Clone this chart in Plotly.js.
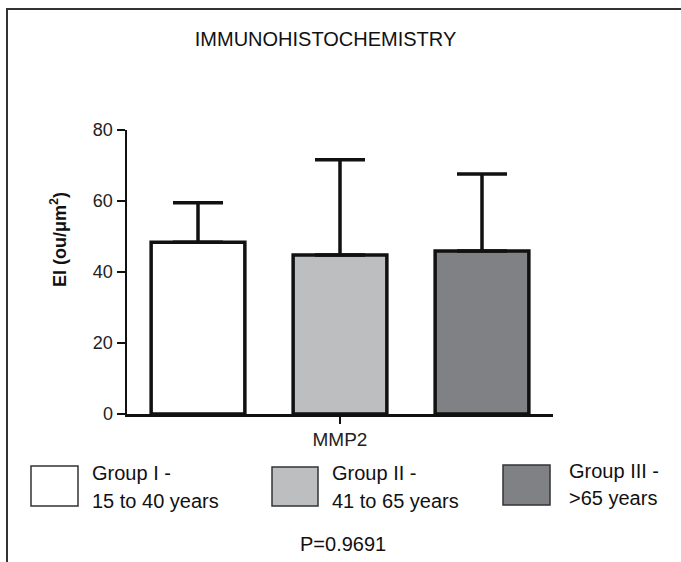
<!DOCTYPE html>
<html>
<head>
<meta charset="utf-8">
<script src="https://cdn.plot.ly/plotly-3.0.1.min.js"></script>
<style>
  html, body { margin: 0; padding: 0; background: #fff; }
  #chart { width: 681px; height: 562px; }
</style>
</head>
<body>
<div id="chart"></div>
<script>
// ---- data ----
const categories = ['Group I', 'Group II', 'Group III'];
const ageRanges = ['15 to 40 years', '41 to 65 years', '>65 years'];
const means = [48.4, 44.8, 45.9];
const sdUpper = [11.1, 26.8, 21.7];
const yTicks = [0, 20, 40, 60, 80];
const markerLabel = ['MMP2'];
const pValueText = 'P=0.9691';
const chartTitle = 'IMMUNOHISTOCHEMISTRY';
const yTitle = '<b>EI (ou/\u03bcm<sup>2</sup>)</b>';

// ---- styles ----
const fills = ['#ffffff', '#bdbec0', '#808184'];
const ink = '#111111';
const FONT = 'Liberation Sans, Arial, Helvetica, sans-serif';

// plot area in pixels
const W = 681, H = 562;
const L = 127, R = 553, T = 130, B = 414;
const px = x => (x - L) / (R - L);
const py = y => (B - y) / (B - T);

const trace = {
  type: 'bar',
  x: categories,
  y: means,
  width: 0.66,
  marker: { color: fills, line: { color: ink, width: 3.5 } },
  error_y: {
    type: 'data', symmetric: false,
    array: sdUpper, arrayminus: sdUpper.map(() => 0),
    color: ink, thickness: 3.5, width: 25
  },
  hoverinfo: 'skip',
  showlegend: false
};

// legend layout (pixels)
const boxes = [
  { x0: 31, x1: 78, y0: 466, y1: 506, tx: 90, l1: 473, l2: 501 },
  { x0: 272, x1: 318, y0: 467, y1: 506, tx: 330, l1: 473, l2: 501 },
  { x0: 503, x1: 550, y0: 465, y1: 505, tx: 567, l1: 471, l2: 498 }
];

const shapes = [
  // outer frame (left + top)
  { type: 'path', xref: 'paper', yref: 'paper',
    path: `M ${px(7)} ${py(570)} L ${px(7)} ${py(9)} L ${px(690)} ${py(9)}`,
    line: { color: '#333', width: 2 } }
];
const annotations = [
  { xref: 'paper', yref: 'paper', x: px(58), y: py(240), text: yTitle,
    textangle: -90, showarrow: false, xanchor: 'center', yanchor: 'middle',
    font: { family: FONT, size: 18, color: ink } },
  { xref: 'paper', yref: 'paper', x: px(342.5), y: py(544), text: pValueText,
    showarrow: false, xanchor: 'center', yanchor: 'middle',
    font: { family: FONT, size: 20, color: ink } }
];
categories.forEach((c, i) => {
  const b = boxes[i];
  shapes.push({ type: 'rect', xref: 'paper', yref: 'paper',
    x0: px(b.x0), x1: px(b.x1), y0: py(b.y1), y1: py(b.y0),
    fillcolor: fills[i], line: { color: '#333', width: 1.5 } });
  annotations.push({ xref: 'paper', yref: 'paper', x: px(b.tx), y: py(b.l1),
    text: c + ' -', showarrow: false, xanchor: 'left', yanchor: 'middle',
    font: { family: FONT, size: 20, color: ink } });
  annotations.push({ xref: 'paper', yref: 'paper', x: px(b.tx), y: py(b.l2),
    text: ageRanges[i].replace('>', '&gt;'), showarrow: false, xanchor: 'left', yanchor: 'middle',
    font: { family: FONT, size: 20, color: ink } });
});

const layout = {
  width: W, height: H,
  margin: { l: L, r: W - R, t: T, b: H - B, pad: 0 },
  paper_bgcolor: '#fff', plot_bgcolor: '#fff',
  font: { family: FONT, color: ink },
  title: { text: chartTitle, x: 325.5 / W, xref: 'container', xanchor: 'center',
           y: 1 - 39 / H, yref: 'container', yanchor: 'middle',
           font: { family: FONT, size: 20, color: ink } },
  xaxis: {
    type: 'category', range: [-0.5, 2.5],
    tickvals: [categories[1]], ticktext: markerLabel,
    ticks: 'outside', ticklen: 7, tickwidth: 2.5, tickcolor: ink,
    showline: true, linewidth: 2.5, linecolor: ink,
    showgrid: false, zeroline: false,
    tickfont: { family: FONT, size: 19, color: '#222' }
  },
  yaxis: {
    range: [0, 80], tickvals: yTicks, ticktext: yTicks.map(String),
    ticks: 'outside', ticklen: 8, tickwidth: 2.5, tickcolor: ink,
    showline: true, linewidth: 2.5, linecolor: ink,
    showgrid: false, zeroline: false,
    tickfont: { family: FONT, size: 18, color: '#222' }
  },
  shapes: shapes,
  annotations: annotations,
  showlegend: false
};

Plotly.newPlot('chart', [trace], layout, { staticPlot: true, displayModeBar: false });
</script>
</body>
</html>
